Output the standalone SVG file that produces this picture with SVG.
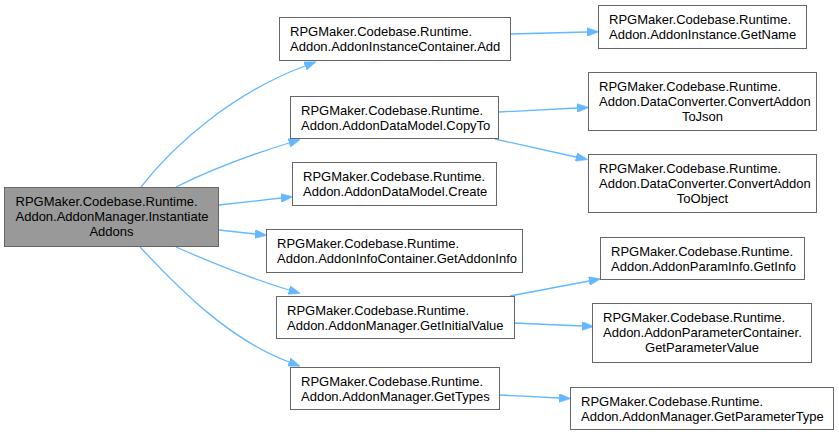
<svg xmlns="http://www.w3.org/2000/svg" width="839" height="435" viewBox="0 0 839 435">
<defs>
<style>
.n rect{fill:#ffffff;stroke:#666666;stroke-width:1}
.n.m rect{fill:#999999}
text{font-family:"Liberation Sans",Arial,sans-serif;font-size:13px;fill:#000000}
.c{text-anchor:middle}
.e path{fill:none;stroke:#63b8ff;stroke-width:1.3;marker-end:url(#ah)}
</style>
<marker id="ah" viewBox="0 0 11 8" refX="0" refY="4" markerUnits="userSpaceOnUse" markerWidth="12" markerHeight="9" orient="auto">
<path d="M0,0 L11,4 L0,8 z" fill="#63b8ff" stroke="#63b8ff" stroke-width="0.5"/>
</marker>
</defs>
<rect width="839" height="435" fill="#ffffff"/>
<g id="edges" class="e">
<path d="M141,187 C175,143 235,92 305,66"/>
<path d="M176,187 C210,170 250,155 289,143"/>
<path d="M219,205 L281,198"/>
<path d="M219,230 L255,234"/>
<path d="M176,247 C210,262 250,278 289,290"/>
<path d="M140,247 C180,290 230,340 289,362"/>
<path d="M510,34 L587,32"/>
<path d="M499,112 L577,108"/>
<path d="M495,139 L576,157"/>
<path d="M510,296 L589,281"/>
<path d="M514,323 L582,326"/>
<path d="M500,395 L559,398"/>
</g>
<g id="n_main" class="n m">
<rect x="4.5" y="187.5" width="214" height="59"/>
<text x="15.5" y="206">RPGMaker.Codebase.Runtime.</text>
<text x="15.5" y="221">Addon.AddonManager.Instantiate</text>
<text class="c" x="111.5" y="236">Addons</text>
</g>
<g id="n_add" class="n">
<rect x="279.5" y="17.5" width="231" height="43"/>
<text x="290" y="36">RPGMaker.Codebase.Runtime.</text>
<text x="290" y="51">Addon.AddonInstanceContainer.Add</text>
</g>
<g id="n_copyto" class="n">
<rect x="290.5" y="96.5" width="208" height="42"/>
<text x="301" y="115">RPGMaker.Codebase.Runtime.</text>
<text x="301" y="130">Addon.AddonDataModel.CopyTo</text>
</g>
<g id="n_create" class="n">
<rect x="292.5" y="162.5" width="204" height="43"/>
<text x="303" y="181">RPGMaker.Codebase.Runtime.</text>
<text x="303" y="196">Addon.AddonDataModel.Create</text>
</g>
<g id="n_getaddoninfo" class="n">
<rect x="266.5" y="229.5" width="256" height="43"/>
<text x="277" y="248">RPGMaker.Codebase.Runtime.</text>
<text x="277" y="263">Addon.AddonInfoContainer.GetAddonInfo</text>
</g>
<g id="n_getinitialvalue" class="n">
<rect x="276.5" y="296.5" width="238" height="42"/>
<text x="287" y="315">RPGMaker.Codebase.Runtime.</text>
<text x="287" y="330">Addon.AddonManager.GetInitialValue</text>
</g>
<g id="n_gettypes" class="n">
<rect x="290.5" y="367.5" width="209" height="42"/>
<text x="301" y="386">RPGMaker.Codebase.Runtime.</text>
<text x="301" y="401">Addon.AddonManager.GetTypes</text>
</g>
<g id="n_getname" class="n">
<rect x="598.5" y="5.5" width="208" height="43"/>
<text x="609" y="24">RPGMaker.Codebase.Runtime.</text>
<text x="609" y="39">Addon.AddonInstance.GetName</text>
</g>
<g id="n_tojson" class="n">
<rect x="588.5" y="72.5" width="228" height="58"/>
<text x="599" y="91">RPGMaker.Codebase.Runtime.</text>
<text x="599" y="106">Addon.DataConverter.ConvertAddon</text>
<text class="c" x="702.5" y="121">ToJson</text>
</g>
<g id="n_toobject" class="n">
<rect x="588.5" y="154.5" width="228" height="58"/>
<text x="599" y="173">RPGMaker.Codebase.Runtime.</text>
<text x="599" y="188">Addon.DataConverter.ConvertAddon</text>
<text class="c" x="702.5" y="203">ToObject</text>
</g>
<g id="n_getinfo" class="n">
<rect x="600.5" y="237.5" width="204" height="42"/>
<text x="611" y="256">RPGMaker.Codebase.Runtime.</text>
<text x="611" y="271">Addon.AddonParamInfo.GetInfo</text>
</g>
<g id="n_getparametervalue" class="n">
<rect x="592.5" y="303.5" width="219" height="59"/>
<text x="603" y="322">RPGMaker.Codebase.Runtime.</text>
<text x="603" y="337">Addon.AddonParameterContainer.</text>
<text class="c" x="702" y="352">GetParameterValue</text>
</g>
<g id="n_getparametertype" class="n">
<rect x="570.5" y="387.5" width="263" height="42"/>
<text x="581" y="406">RPGMaker.Codebase.Runtime.</text>
<text x="581" y="421">Addon.AddonManager.GetParameterType</text>
</g>
</svg>
